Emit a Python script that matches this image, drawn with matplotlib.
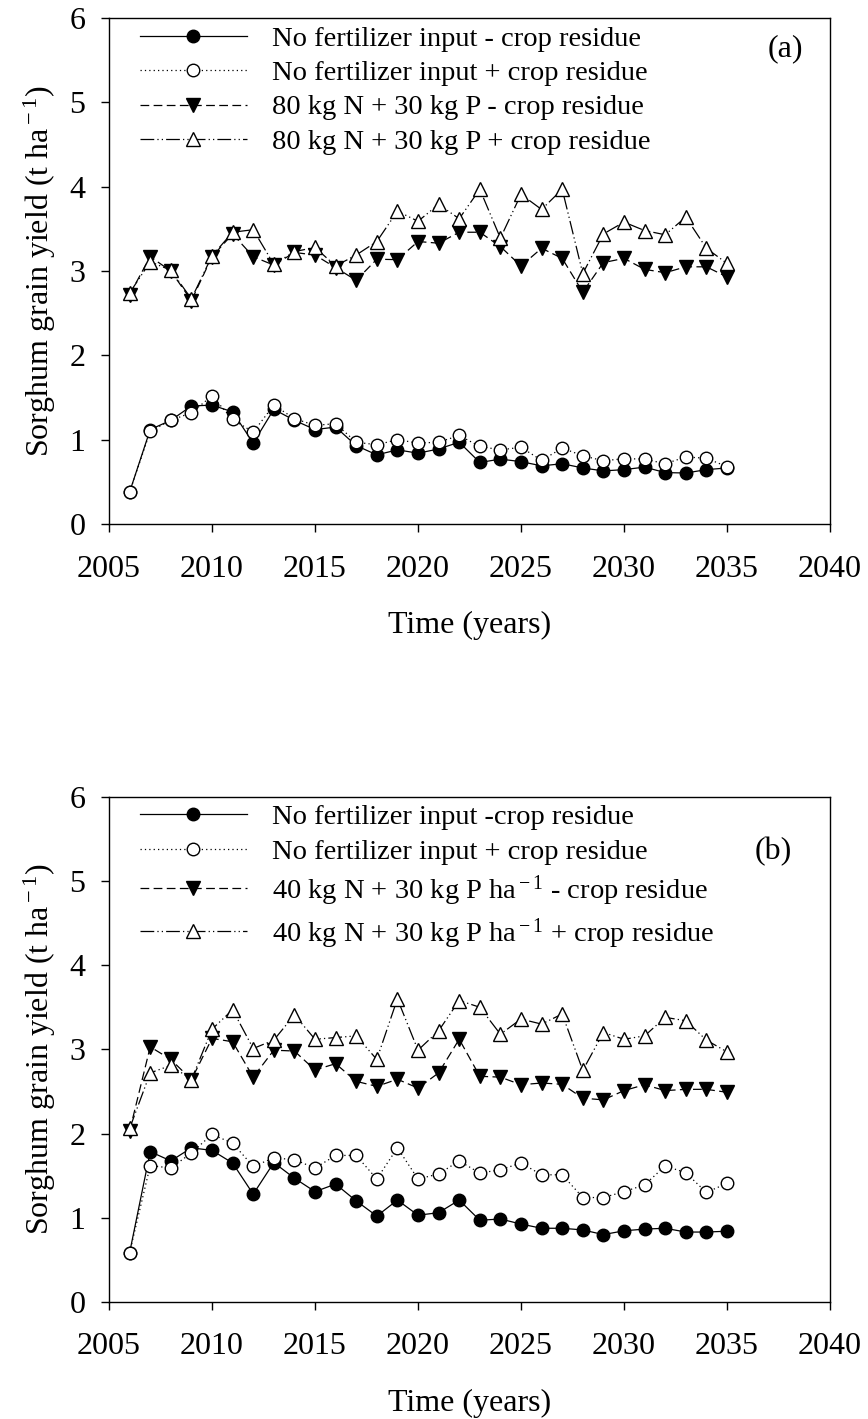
import numpy as np
import matplotlib
matplotlib.use("Agg")
import matplotlib.pyplot as plt

plt.rcParams['font.family'] = ['Liberation Serif', 'DejaVu Serif']
plt.rcParams['mathtext.fontset'] = 'custom'
plt.rcParams['mathtext.rm'] = 'Liberation Serif'
plt.rcParams['mathtext.it'] = 'Liberation Serif:italic'

years = np.arange(2006, 2036)

# panel (a)
a_nofert_minus = [0.38, 1.12, 1.23, 1.40, 1.41, 1.33, 0.96, 1.36, 1.23, 1.12,
                  1.15, 0.93, 0.82, 0.88, 0.84, 0.89, 0.97, 0.73, 0.77, 0.74,
                  0.69, 0.715, 0.665, 0.63, 0.645, 0.675, 0.61, 0.605, 0.645, 0.665]
a_nofert_plus = [0.38, 1.10, 1.23, 1.32, 1.52, 1.24, 1.09, 1.41, 1.25, 1.17,
                 1.19, 0.97, 0.94, 1.00, 0.96, 0.97, 1.05, 0.92, 0.88, 0.91,
                 0.755, 0.90, 0.81, 0.75, 0.775, 0.77, 0.715, 0.795, 0.78, 0.68]
a_fert_minus = [2.72, 3.17, 3.00, 2.65, 3.17, 3.44, 3.17, 3.07, 3.22, 3.19,
                3.04, 2.89, 3.14, 3.135, 3.35, 3.33, 3.46, 3.46, 3.29, 3.06,
                3.27, 3.15, 2.75, 3.10, 3.15, 3.02, 2.98, 3.05, 3.05, 2.93]
a_fert_plus = [2.74, 3.11, 3.01, 2.67, 3.18, 3.46, 3.49, 3.08, 3.23, 3.28,
               3.06, 3.19, 3.35, 3.71, 3.59, 3.79, 3.62, 3.97, 3.39, 3.91,
               3.73, 3.97, 2.97, 3.44, 3.58, 3.48, 3.43, 3.64, 3.27, 3.09]

# panel (b)
b_nofert_minus = [0.585, 1.785, 1.675, 1.83, 1.80, 1.65, 1.28, 1.655, 1.47, 1.31,
                  1.40, 1.20, 1.02, 1.21, 1.03, 1.06, 1.21, 0.97, 0.985, 0.925,
                  0.875, 0.875, 0.855, 0.80, 0.845, 0.865, 0.875, 0.83, 0.83, 0.84]
b_nofert_plus = [0.585, 1.62, 1.59, 1.77, 1.99, 1.885, 1.61, 1.71, 1.69, 1.59,
                 1.74, 1.74, 1.46, 1.83, 1.46, 1.52, 1.675, 1.53, 1.57, 1.65,
                 1.51, 1.51, 1.24, 1.24, 1.31, 1.39, 1.615, 1.535, 1.30, 1.41]
b_fert_minus = [2.03, 3.03, 2.88, 2.64, 3.13, 3.09, 2.67, 2.99, 2.98, 2.755,
                2.83, 2.62, 2.56, 2.645, 2.54, 2.72, 3.12, 2.68, 2.67, 2.58,
                2.60, 2.585, 2.42, 2.40, 2.51, 2.58, 2.51, 2.525, 2.525, 2.49]
b_fert_plus = [2.06, 2.72, 2.81, 2.64, 3.24, 3.47, 3.01, 3.11, 3.41, 3.12,
               3.14, 3.16, 2.88, 3.60, 2.99, 3.22, 3.58, 3.50, 3.18, 3.36,
               3.30, 3.42, 2.75, 3.20, 3.12, 3.16, 3.38, 3.34, 3.11, 2.97]

labels_a = ["No fertilizer input - crop residue",
            "No fertilizer input + crop residue",
            "80 kg N + 30 kg P - crop residue",
            "80 kg N + 30 kg P + crop residue"]
labels_b = ["No fertilizer input -crop residue",
            "No fertilizer input + crop residue",
            r"40 kg N + 30 kg P ha$^{\rm -1}$ - crop residue",
            r"40 kg N + 30 kg P ha$^{\rm -1}$ + crop residue"]

styles = [dict(ls='-', marker='o', mfc='black', ms=9),
          dict(ls=(0, (1, 2.5)), marker='o', mfc='white', ms=9),
          dict(ls=(0, (7, 3.5)), marker='v', mfc='black', ms=9.5),
          dict(ls=(0, (11, 2.5, 1, 2.5, 1, 2.5)), marker='^', mfc='white', ms=9.5)]

fig = plt.figure(figsize=(8.68, 14.19), dpi=100)


def panel(rect, series, labels, tag, tag_xy, spacing):
    ax = fig.add_axes(rect)
    for y, lab, st in zip(series, labels, styles):
        ax.plot(years, y, color='black', lw=0.9, mec='black', mew=1.0,
                label=lab, **st)
    ax.set_xlim(2005, 2040)
    ax.set_ylim(0, 6)
    ax.set_xticks(np.arange(2005, 2041, 5))
    ax.set_yticks(np.arange(0, 7, 1))
    ax.tick_params(direction='out', length=6, width=1, labelsize=23)
    ax.tick_params(axis='x', pad=16)
    ax.tick_params(axis='y', pad=11)
    for s in ax.spines.values():
        s.set_linewidth(1.0)
    ax.set_xlabel("Time (years)", fontsize=23, labelpad=20)
    ax.set_ylabel(r"Sorghum grain yield (t ha$^{\rm -1}$)", fontsize=23, labelpad=8)
    ax.text(tag_xy[0], tag_xy[1], tag, transform=ax.transAxes, fontsize=23,
            ha='center', va='center')
    ax.legend(loc='upper left', bbox_to_anchor=(0.043, 0.985), frameon=False,
              fontsize=20.5, handlelength=3.75, handletextpad=0.88,
              labelspacing=spacing, borderpad=0, borderaxespad=0, numpoints=1)
    return ax


panel([0.1256, 0.6307, 0.8306, 0.3566],
      [a_nofert_minus, a_nofert_plus, a_fert_minus, a_fert_plus],
      labels_a, "(a)", (0.9376, 0.94), 0.3)
panel([0.1256, 0.0825, 0.8306, 0.3560],
      [b_nofert_minus, b_nofert_plus, b_fert_minus, b_fert_plus],
      labels_b, "(b)", (0.921, 0.891), 0.3)

plt.savefig("out.png", dpi=100)
